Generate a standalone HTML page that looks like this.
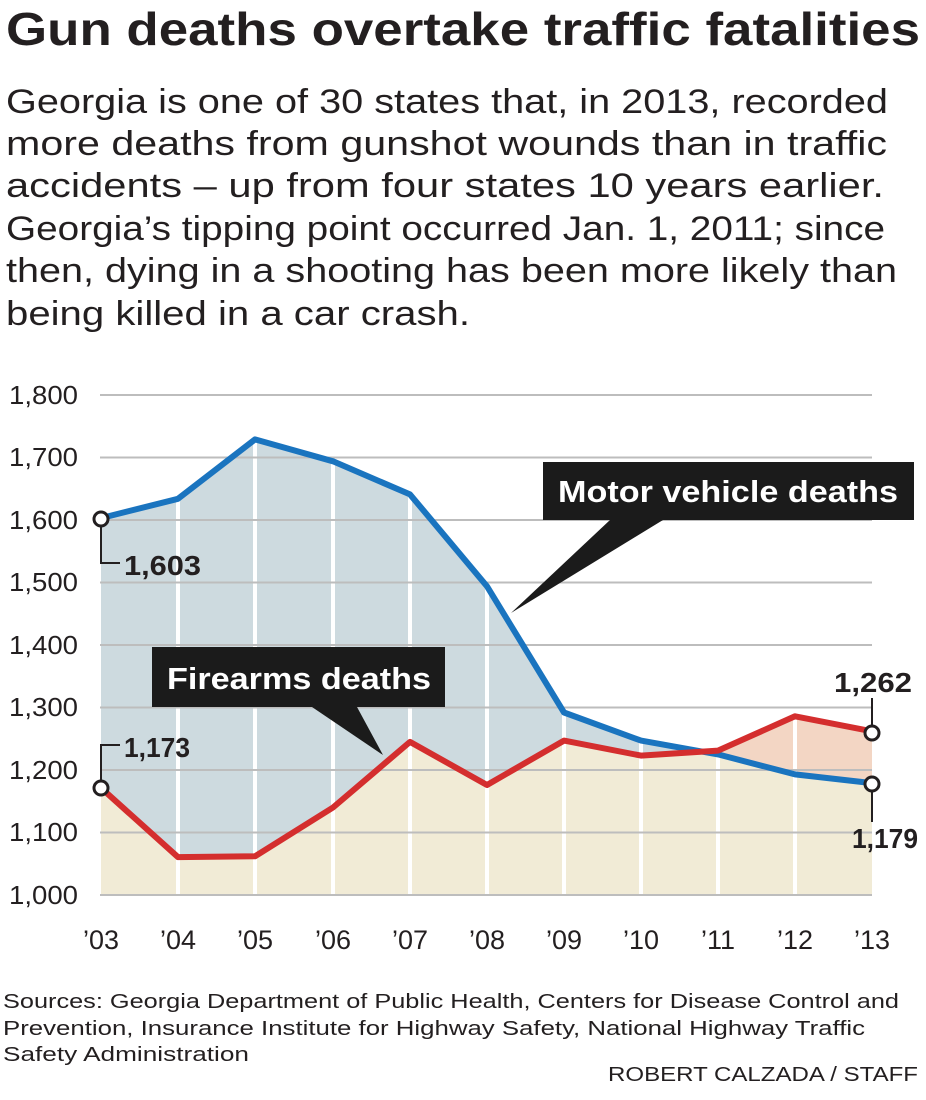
<!DOCTYPE html>
<html><head><meta charset="utf-8"><style>
html,body{margin:0;padding:0;background:#fff;}
svg{display:block;}
</style></head><body>
<svg width="926" height="1100" viewBox="0 0 926 1100" xmlns="http://www.w3.org/2000/svg" font-family="Liberation Sans, sans-serif">
<text x="6" y="45" font-size="46" font-weight="bold" fill="#231f20" textLength="914" lengthAdjust="spacingAndGlyphs">Gun deaths overtake traffic fatalities</text>
<g font-size="34" fill="#231f20">
<text x="6" y="113" textLength="882" lengthAdjust="spacingAndGlyphs">Georgia is one of 30 states that, in 2013, recorded</text>
<text x="6" y="155" textLength="881" lengthAdjust="spacingAndGlyphs">more deaths from gunshot wounds than in traffic</text>
<text x="6" y="197" textLength="878" lengthAdjust="spacingAndGlyphs">accidents – up from four states 10 years earlier.</text>
<text x="6" y="240" textLength="879" lengthAdjust="spacingAndGlyphs">Georgia’s tipping point occurred Jan. 1, 2011; since</text>
<text x="6" y="282" textLength="891" lengthAdjust="spacingAndGlyphs">then, dying in a shooting has been more likely than</text>
<text x="6" y="325" textLength="464" lengthAdjust="spacingAndGlyphs">being killed in a car crash.</text>
</g>
<polygon fill="#f3d6c4" points="101,787.9 178,857.1 255,856.3 333,807.5 410,741.9 487,785 564,740.6 641,755.6 718,750.6 795,716.3 872,731.3 872,895 101,895"/>
<polygon fill="#cddadf" points="101,518.1 178,498.8 255,439.4 333,461.3 410,494.4 487,586.3 564,712.5 641,740.6 718,754.4 795,774.4 872,783.1 872,895 101,895"/>
<polygon fill="#f1ebd6" points="101,787.9 178,857.1 255,856.3 333,807.5 410,741.9 487,785 564,740.6 641,755.6 702,751.6 718,754.4 795,774.4 872,783.1 872,895 101,895"/>
<g stroke="#fff" stroke-width="4">
<line x1="178" y1="400" x2="178" y2="895"/><line x1="255" y1="400" x2="255" y2="895"/><line x1="333" y1="400" x2="333" y2="895"/><line x1="410" y1="400" x2="410" y2="895"/><line x1="487" y1="400" x2="487" y2="895"/><line x1="564" y1="400" x2="564" y2="895"/><line x1="641" y1="400" x2="641" y2="895"/><line x1="718" y1="400" x2="718" y2="895"/><line x1="795" y1="400" x2="795" y2="895"/>
</g>
<polygon fill="#fff" points="100,380 100,518.1 178,498.8 255,439.4 333,461.3 410,494.4 487,586.3 564,712.5 641,740.6 718,751 795,716.3 872,731.3 880,731.3 880,380"/>
<g stroke="#bdbdbd" stroke-width="2">
<line x1="100" y1="395" x2="872" y2="395"/><line x1="100" y1="457.5" x2="872" y2="457.5"/><line x1="100" y1="520" x2="872" y2="520"/><line x1="100" y1="582.5" x2="872" y2="582.5"/><line x1="100" y1="645" x2="872" y2="645"/><line x1="100" y1="707.5" x2="872" y2="707.5"/><line x1="100" y1="770" x2="872" y2="770"/><line x1="100" y1="832.5" x2="872" y2="832.5"/><line x1="100" y1="895" x2="872" y2="895"/>
</g>
<g font-size="26" fill="#231f20">
<text x="9" y="404" textLength="69" lengthAdjust="spacingAndGlyphs">1,800</text><text x="9" y="466" textLength="69" lengthAdjust="spacingAndGlyphs">1,700</text><text x="9" y="529" textLength="69" lengthAdjust="spacingAndGlyphs">1,600</text><text x="9" y="591" textLength="69" lengthAdjust="spacingAndGlyphs">1,500</text><text x="9" y="654" textLength="69" lengthAdjust="spacingAndGlyphs">1,400</text><text x="9" y="716" textLength="69" lengthAdjust="spacingAndGlyphs">1,300</text><text x="9" y="779" textLength="69" lengthAdjust="spacingAndGlyphs">1,200</text><text x="9" y="841" textLength="69" lengthAdjust="spacingAndGlyphs">1,100</text><text x="9" y="904" textLength="69" lengthAdjust="spacingAndGlyphs">1,000</text>
</g>
<g font-size="27" fill="#231f20" text-anchor="middle">
<text x="101" y="949">’03</text><text x="178" y="949">’04</text><text x="255" y="949">’05</text><text x="333" y="949">’06</text><text x="410" y="949">’07</text><text x="487" y="949">’08</text><text x="564" y="949">’09</text><text x="641" y="949">’10</text><text x="718" y="949">’11</text><text x="795" y="949">’12</text><text x="872" y="949">’13</text>
</g>
<polyline fill="none" stroke="#1a74bf" stroke-width="6" stroke-linejoin="round" points="101,518.1 178,498.8 255,439.4 333,461.3 410,494.4 487,586.3 564,712.5 641,740.6 718,754.4 795,774.4 872,783.1"/>
<polyline fill="none" stroke="#d42e2e" stroke-width="6" stroke-linejoin="round" points="101,787.9 178,857.1 255,856.3 333,807.5 410,741.9 487,785 564,740.6 641,755.6 718,750.6 795,716.3 872,731.3"/>
<polygon fill="#1b1b1b" points="543,462 914,462 914,520 663,520 511,613 610,520 543,520"/>
<text x="728" y="502" font-size="31" font-weight="bold" fill="#fff" text-anchor="middle" textLength="340" lengthAdjust="spacingAndGlyphs">Motor vehicle deaths</text>
<polygon fill="#1b1b1b" points="152,647 445,647 445,707 357,707 383,755 312,707 152,707"/>
<text x="299" y="689" font-size="31" font-weight="bold" fill="#fff" text-anchor="middle" textLength="264" lengthAdjust="spacingAndGlyphs">Firearms deaths</text>
<g fill="none" stroke="#231f20" stroke-width="2">
<polyline points="101,519 101,563 120,563"/>
<polyline points="101,788 101,745 120,745"/>
<line x1="872" y1="733" x2="872" y2="698"/>
<line x1="872" y1="784" x2="872" y2="822"/>
</g>
<g fill="#fff" stroke="#231f20" stroke-width="3">
<circle cx="101" cy="519" r="7"/><circle cx="101" cy="788" r="7"/><circle cx="872" cy="733" r="7"/><circle cx="872" cy="784" r="7"/>
</g>
<g font-size="28" font-weight="bold" fill="#231f20">
<text x="124" y="575" textLength="77" lengthAdjust="spacingAndGlyphs">1,603</text>
<text x="124" y="757" textLength="66" lengthAdjust="spacingAndGlyphs">1,173</text>
<text x="834" y="692" textLength="78" lengthAdjust="spacingAndGlyphs">1,262</text>
<text x="852" y="848" textLength="66" lengthAdjust="spacingAndGlyphs">1,179</text>
</g>
<g font-size="20" fill="#231f20">
<text x="3" y="1008" textLength="896" lengthAdjust="spacingAndGlyphs">Sources: Georgia Department of Public Health, Centers for Disease Control and</text>
<text x="3" y="1035" textLength="862" lengthAdjust="spacingAndGlyphs">Prevention, Insurance Institute for Highway Safety, National Highway Traffic</text>
<text x="3" y="1061" textLength="246" lengthAdjust="spacingAndGlyphs">Safety Administration</text>
<text x="918" y="1081" text-anchor="end" textLength="310" lengthAdjust="spacingAndGlyphs">ROBERT CALZADA / STAFF</text>
</g>
</svg>
</body></html>
